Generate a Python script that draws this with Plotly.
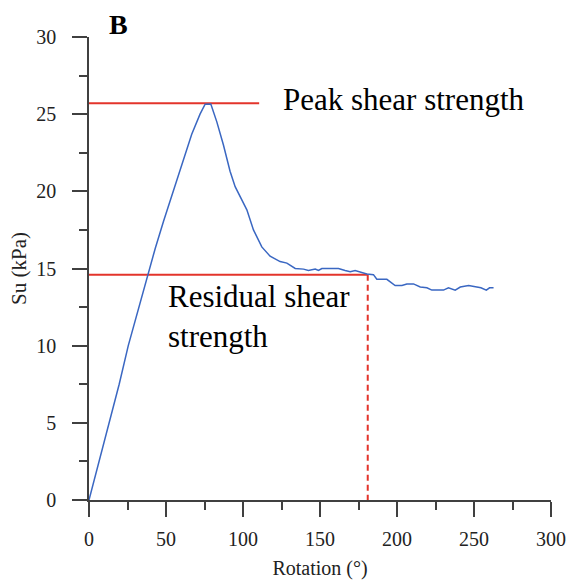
import plotly.graph_objects as go

# Data
rotation = [0, 6.5, 13.3, 19.6, 25.5, 32.0, 38.2, 43.0, 48.5, 54.8, 61.0, 66.7, 72.1, 75.4,
            79.1, 83.0, 87.3, 91.6, 94.9, 98.1, 102.5, 106.8, 112.2, 117.6, 124.1, 128.5,
            133.9, 139.3, 142.5, 146.9, 149.0, 151.2, 162.0, 166.3, 169.6, 172.8, 176.1,
            180.4, 184.7, 186.9, 193.4, 198.8, 203.2, 206.4, 210.7, 215.1, 219.4, 222.6,
            230.2, 233.4, 237.8, 241.1, 246.5, 250.8, 254.5, 258.0, 260.1, 262.7]
su = [0, 2.5, 5.0, 7.5, 10.0, 12.4, 14.6, 16.3, 18.1, 20.0, 22.0, 23.7, 25.0, 25.65,
      25.66, 24.5, 23.0, 21.3, 20.3, 19.7, 18.8, 17.5, 16.4, 15.8, 15.45, 15.35,
      15.0, 14.96, 14.87, 14.96, 14.87, 15.0, 15.0, 14.87, 14.79, 14.87, 14.78,
      14.64, 14.6, 14.3, 14.3, 13.9, 13.9, 14.0, 14.0, 13.8, 13.75, 13.6,
      13.6, 13.75, 13.6, 13.8, 13.9, 13.8, 13.75, 13.6, 13.75, 13.75]

peak_su = 25.7
peak_line_end = 110.5
residual_su = 14.6
residual_rotation = 181

x_ticks = [0, 50, 100, 150, 200, 250, 300]
y_ticks = [0, 5, 10, 15, 20, 25, 30]

FONT = "Liberation Serif"
RED = "#E3342B"
BLUE = "#3A67C2"
AXIS = "#404040"

fig = go.Figure()

fig.add_trace(go.Scatter(x=[0, peak_line_end], y=[peak_su, peak_su], mode="lines",
                         line=dict(color=RED, width=2), showlegend=False, hoverinfo="skip"))
fig.add_trace(go.Scatter(x=[0, residual_rotation], y=[residual_su, residual_su], mode="lines",
                         line=dict(color=RED, width=2), showlegend=False, hoverinfo="skip"))
fig.add_trace(go.Scatter(x=[residual_rotation, residual_rotation], y=[residual_su, 0], mode="lines",
                         line=dict(color=RED, width=2, dash="6px,4px"), showlegend=False,
                         hoverinfo="skip"))
fig.add_trace(go.Scatter(x=rotation, y=su, mode="lines",
                         line=dict(color=BLUE, width=1.5), showlegend=False))

fig.add_annotation(x=124.6, y=25.95, xref="x", yref="y", text="Peak shear strength",
                   showarrow=False, xanchor="left", yanchor="middle",
                   font=dict(family=FONT, size=31, color="black"))
fig.add_annotation(x=49.8, y=11.9, xref="x", yref="y", text="Residual shear<br>strength",
                   showarrow=False, xanchor="left", yanchor="middle", align="left",
                   font=dict(family=FONT, size=31, color="black"))
fig.add_annotation(x=11.8, y=1.028, xref="x", yref="paper", text="<b>B</b>",
                   showarrow=False, xanchor="left", yanchor="middle",
                   font=dict(family=FONT, size=28, color="black"))

fig.update_xaxes(range=[0, 300], tickvals=x_ticks, ticks="outside", ticklen=15, tickwidth=1.5,
                 tickcolor=AXIS, showline=True, linecolor=AXIS, linewidth=1.5, showgrid=False,
                 zeroline=False, tickfont=dict(family=FONT, size=20, color="#222"),
                 ticklabelstandoff=5,
                 minor=dict(tickvals=[25, 75, 125, 175, 225, 275], ticks="outside", ticklen=8,
                            tickwidth=1.5, tickcolor=AXIS, showgrid=False),
                 title=dict(text="Rotation (°)", font=dict(family=FONT, size=20, color="#222"),
                            standoff=12))
fig.update_yaxes(range=[0, 30], tickvals=y_ticks, ticks="outside", ticklen=15, tickwidth=1.5,
                 tickcolor=AXIS, showline=True, linecolor=AXIS, linewidth=1.5, showgrid=False,
                 zeroline=False, tickfont=dict(family=FONT, size=20, color="#222"),
                 ticklabelstandoff=12,
                 minor=dict(tickvals=[2.5, 7.5, 12.5, 17.5, 22.5, 27.5], ticks="outside",
                            ticklen=8, tickwidth=1.5, tickcolor=AXIS, showgrid=False),
                 title=dict(text="Su (kPa)", font=dict(family=FONT, size=21, color="#222"),
                            standoff=4))

fig.update_layout(width=571, height=581, margin=dict(l=89, r=20, t=37, b=81, autoexpand=False),
                  plot_bgcolor="white", paper_bgcolor="white", showlegend=False)

fig.write_html("out.html")
